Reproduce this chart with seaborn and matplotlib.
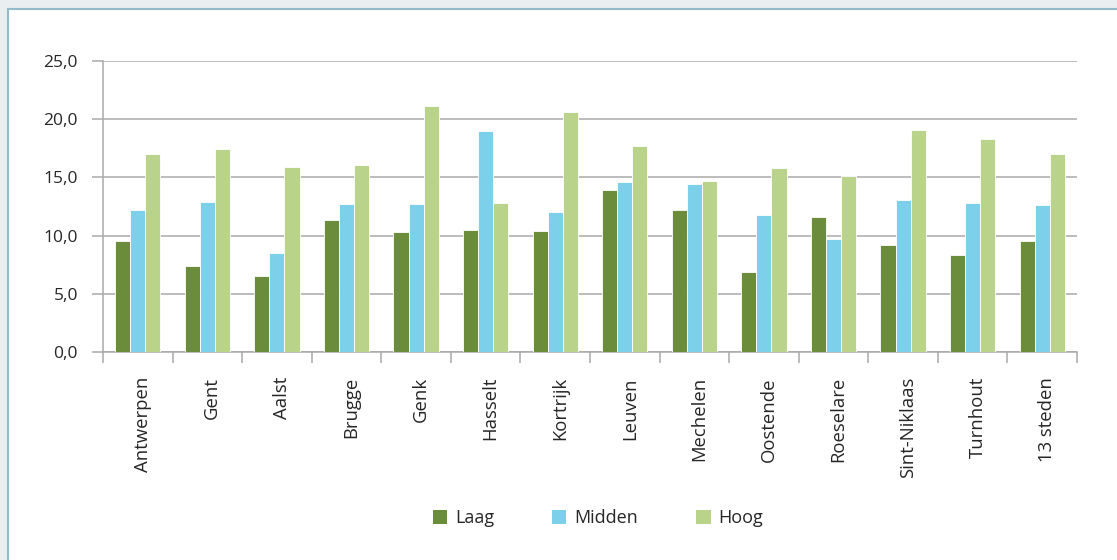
import numpy as np
import pandas as pd
import matplotlib
matplotlib.use("Agg")
import matplotlib.pyplot as plt
import matplotlib.transforms as mtransforms
from matplotlib.patches import Rectangle, Patch
import seaborn as sns

# Data
CITIES = ["Antwerpen", "Gent", "Aalst", "Brugge", "Genk", "Hasselt", "Kortrijk",
          "Leuven", "Mechelen", "Oostende", "Roeselare", "Sint-Niklaas", "Turnhout", "13 steden"]
LAAG = [9.5, 7.4, 6.5, 11.3, 10.3, 10.5, 10.4, 13.9, 12.2, 6.9, 11.6, 9.2, 8.3, 9.5]
MIDDEN = [12.2, 12.9, 8.5, 12.7, 12.7, 19.0, 12.0, 14.6, 14.4, 11.8, 9.7, 13.1, 12.8, 12.6]
HOOG = [17.0, 17.4, 15.9, 16.1, 21.1, 12.8, 20.6, 17.7, 14.7, 15.8, 15.1, 19.1, 18.3, 17.0]
GROUPS = ["Laag", "Midden", "Hoog"]
COLORS = {"Laag": "#6b8c3a", "Midden": "#7dd0ea", "Hoog": "#b9d48a"}
GREY = "#a9a9a9"

sns.set_theme(style="white")
plt.rcParams["font.family"] = ["Open Sans", "DejaVu Sans"]

df = pd.DataFrame({
    "Stad": CITIES * 3,
    "Groep": ["Laag"] * 14 + ["Midden"] * 14 + ["Hoog"] * 14,
    "Waarde": LAAG + MIDDEN + HOOG,
})

fig = plt.figure(figsize=(11.17, 5.6), dpi=100)
fig.patch.set_facecolor("#e9eef1")
# white panel with light blue border
panel = Rectangle((7.5 / 1117, -0.02), 1.05, (560 - 8.5) / 560 + 0.02,
                  transform=fig.transFigure, facecolor="white",
                  edgecolor="#93bccb", linewidth=1.5, zorder=-1)
fig.add_artist(panel)

ax = fig.add_axes([103 / 1117, 1 - 352 / 560, 974 / 1117, 291 / 560])
sns.barplot(data=df, x="Stad", y="Waarde", hue="Groep", hue_order=GROUPS,
            order=CITIES, palette=COLORS, width=0.65, edgecolor="white",
            linewidth=0.6, saturation=1, legend=False, ax=ax, zorder=3)

ax.set_xlim(-0.5, len(CITIES) - 0.5)
ax.set_ylim(0, 25)
ax.set_yticks(np.arange(0, 26, 5))
ax.set_yticklabels([f"{v:.1f}".replace(".", ",") for v in np.arange(0, 26, 5)])
ax.yaxis.grid(True, color=GREY, linewidth=1.1)
ax.set_axisbelow(True)
ax.tick_params(axis="y", length=8, width=1.1, color=GREY, pad=10, labelsize=12.5, left=True)
ax.tick_params(axis="x", which="major", length=0, pad=18, labelsize=13.3, rotation=90)
ax.set_xticks(np.arange(-0.5, len(CITIES), 1), minor=True)
ax.tick_params(axis="x", which="minor", length=8, width=1.1, color=GREY, bottom=True)
# category labels sit a little right of the group centre
shift = mtransforms.ScaledTranslation(5 / 100, 0, fig.dpi_scale_trans)
for lbl in ax.get_xticklabels():
    lbl.set_transform(lbl.get_transform() + shift)
for s in ["top", "right"]:
    ax.spines[s].set_visible(False)
for s in ["left", "bottom"]:
    ax.spines[s].set_color(GREY)
    ax.spines[s].set_linewidth(1.1)
ax.set_xlabel("")
ax.set_ylabel("")

handles = [Patch(facecolor=COLORS[g], edgecolor="none", label=g) for g in GROUPS]
fig.legend(handles=handles, loc="center", bbox_to_anchor=(598 / 1117, 1 - 518 / 560),
           ncol=3, frameon=False, fontsize=13, handlelength=0.8, handleheight=0.8,
           handletextpad=0.45, columnspacing=3.2)

fig.savefig("out.png", dpi=100, facecolor=fig.get_facecolor())
